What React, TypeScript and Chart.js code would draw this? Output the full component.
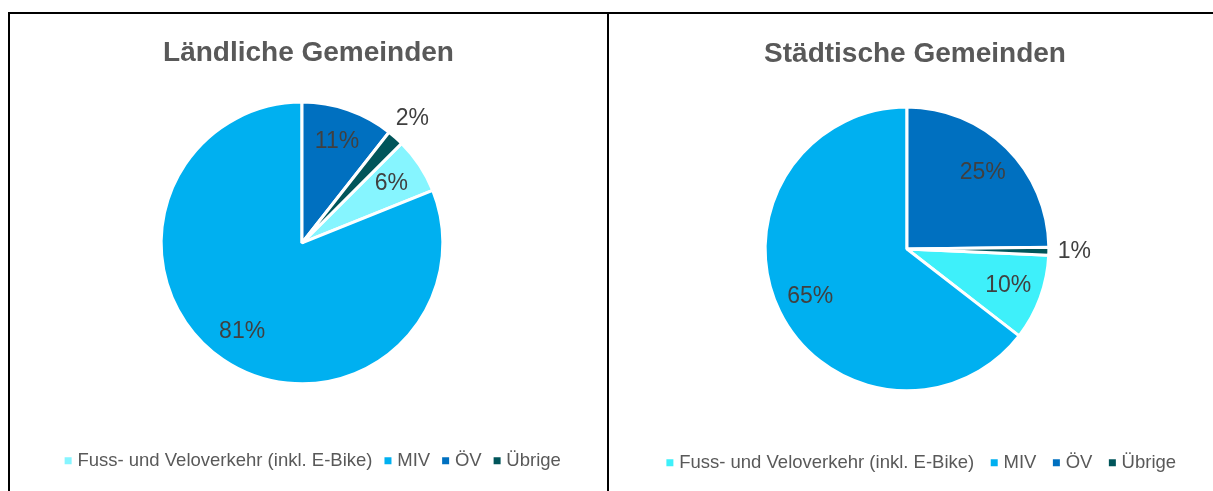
import React, { useEffect, useRef } from 'react';
import { Chart, registerables } from 'chart.js';

Chart.register(...registerables);

// ---- data ----
const categories = ['Fuss- und Veloverkehr (inkl. E-Bike)', 'MIV', 'ÖV', 'Übrige'];
const ruralTitle = 'Ländliche Gemeinden';
const urbanTitle = 'Städtische Gemeinden';
const ruralValues = [6.4, 81.1, 10.6, 1.9];
const urbanValues = [9.8, 64.5, 24.8, 0.9];

// ---- styles ----
const ruralColors = ['#86F5FF', '#00B0F0', '#0070C0', '#00555A'];
const urbanColors = ['#3EF0FA', '#00B0F0', '#0070C0', '#00555A'];
const FONT = '"Liberation Sans", Arial, sans-serif';

const pieLabels = {
  id: 'pieLabels',
  afterDatasetsDraw(chart: any) {
    const ctx = chart.ctx;
    const vals = chart.data.datasets[0].data as number[];
    const total = vals.reduce((a: number, b: number) => a + b, 0);
    const meta = chart.getDatasetMeta(0);
    ctx.save();
    ctx.font = '23px ' + FONT;
    ctx.fillStyle = '#404040';
    ctx.textAlign = 'center';
    ctx.textBaseline = 'middle';
    meta.data.forEach((arc: any, i: number) => {
      const p = arc.getProps(['x', 'y', 'startAngle', 'endAngle', 'outerRadius'], true);
      const mid = (p.startAngle + p.endAngle) / 2;
      const pct = (vals[i] / total) * 100;
      const f = pct < 3 ? 1.18 : 0.76;
      ctx.fillText(
        Math.round(pct) + '%',
        p.x + Math.cos(mid) * p.outerRadius * f,
        p.y + Math.sin(mid) * p.outerRadius * f
      );
    });
    ctx.restore();
  },
};

// narrows the plot area on its right side so the pie sits left of the title centre,
// and nudges the legend box sideways
const boxShift = {
  id: 'boxShift',
  afterLayout(chart: any, _args: any, opts: any) {
    const a = chart.chartArea;
    a.right -= opts.right || 0;
    a.width = a.right - a.left;
    const lg = chart.legend;
    if (lg && opts.legendX) {
      lg.left += opts.legendX;
      lg.right += opts.legendX;
    }
  },
};

type PieProps = {
  title: string;
  values: number[];
  colors: string[];
  width: number;
  height: number;
  titlePad: { top: number; bottom: number };
  legendGap: number;
  legendItemGap: number;
  pad: { left: number; right: number; bottom: number };
  shrinkRight: number;
  legendX: number;
};

function PiePanel(props: PieProps) {
  const ref = useRef<HTMLCanvasElement | null>(null);
  useEffect(() => {
    if (!ref.current) return;
    const { values, colors } = props;
    const total = values.reduce((a, b) => a + b, 0);
    // ÖV and Übrige come first clockwise from 12 o'clock
    const rotation = ((values[2] + values[3]) / total) * 360;
    const chart = new Chart(ref.current, {
      type: 'pie',
      data: {
        labels: categories,
        datasets: [
          {
            data: values,
            backgroundColor: colors,
            borderColor: '#FFFFFF',
            borderWidth: 3,
          },
        ],
      },
      options: {
        responsive: false,
        animation: false,
        rotation,
        layout: { padding: { top: 0, left: props.pad.left, right: props.pad.right, bottom: props.pad.bottom } },
        plugins: {
          tooltip: { enabled: false },
          boxShift: { right: props.shrinkRight, legendX: props.legendX },
          title: {
            display: true,
            text: props.title,
            color: '#595959',
            font: { family: FONT, size: 28, weight: 'bold' },
            padding: props.titlePad,
          },
          legend: {
            display: true,
            position: 'bottom',
            title: { display: true, text: '', font: { size: 1 }, padding: { top: props.legendGap, bottom: 0 } },
            labels: {
              color: '#595959',
              font: { family: FONT, size: 18.5 },
              usePointStyle: true,
              pointStyle: 'rect',
              boxWidth: 0.01,
              boxHeight: 7,
              padding: props.legendItemGap,
              generateLabels: (ch: any) =>
                (ch.data.labels as string[]).map((l: string, i: number) => ({
                  text: l,
                  fillStyle: colors[i],
                  strokeStyle: colors[i],
                  lineWidth: 0,
                  hidden: false,
                  index: i,
                  pointStyle: 'rect',
                  fontColor: '#595959',
                })),
            },
          },
        },
      } as any,
      plugins: [boxShift, pieLabels],
    });
    return () => chart.destroy();
  }, []);
  return <canvas ref={ref} width={props.width} height={props.height} style={{ display: 'block', width: props.width, height: props.height }} />;
}

export default function App() {
  return (
    <div
      style={{
        position: 'fixed',
        left: 8,
        top: 12,
        width: 1205,
        height: 479,
        borderTop: '2px solid #000',
        borderLeft: '2px solid #000',
        boxSizing: 'border-box',
        display: 'flex',
        background: '#fff',
      }}
    >
      <div style={{ width: 599, height: 477, borderRight: '2px solid #000', boxSizing: 'border-box' }}>
        <PiePanel
          title={ruralTitle}
          values={ruralValues}
          colors={ruralColors}
          width={597}
          height={477}
          titlePad={{ top: 22, bottom: 31 }}
          legendGap={49.5}
          legendItemGap={15.5}
          pad={{ left: 0, right: 0, bottom: 11 }}
          shrinkRight={13}
          legendX={6}
        />
      </div>
      <div style={{ width: 604, height: 477 }}>
        <PiePanel
          title={urbanTitle}
          values={urbanValues}
          colors={urbanColors}
          width={604}
          height={477}
          titlePad={{ top: 23, bottom: 35 }}
          legendGap={40}
          legendItemGap={20}
          pad={{ left: 8, right: 0, bottom: 9 }}
          shrinkRight={16}
          legendX={8}
        />
      </div>
    </div>
  );
}
